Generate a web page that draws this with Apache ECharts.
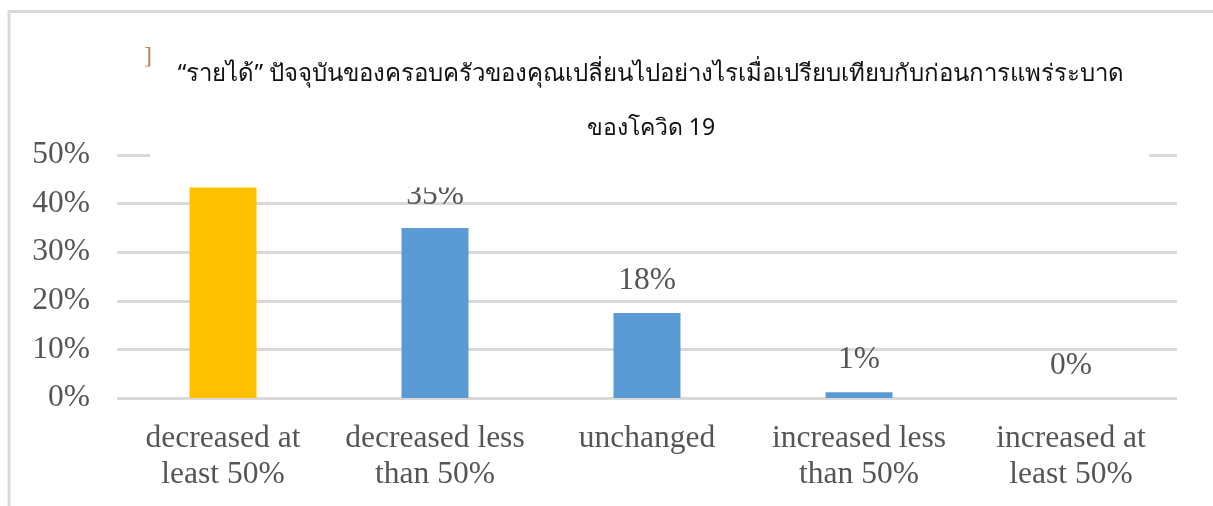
<!DOCTYPE html>
<html>
<head>
<meta charset="utf-8">
<script src="https://cdn.jsdelivr.net/npm/echarts@6/dist/echarts.min.js"></script>
<style>
  html, body { margin: 0; padding: 0; background: #fff; }
  #incomeChart { width: 1213px; height: 506px; }
</style>
</head>
<body>
<div id="incomeChart"></div>
<script>
// หมวดหมู่ (แกน x)
const categories = [
  "decreased at\nleast 50%",
  "decreased less\nthan 50%",
  "unchanged",
  "increased less\nthan 50%",
  "increased at\nleast 50%"
];
// ร้อยละของครัวเรือน
const shares = [46, 35, 17.5, 1.2, 0];
const barColors = ["#FFC000", "#5B9BD5", "#5B9BD5", "#5B9BD5", "#5B9BD5"];
const yTicks = [0, 10, 20, 30, 40, 50];

const titleLine1 = "“รายได้” ปัจจุบันของครอบครัวของคุณเปลี่ยนไปอย่างไรเมื่อเปรียบเทียบกับก่อนการแพร่ระบาด";
const titleLine2 = "ของโควิด 19";

const serif = "'Liberation Serif', 'Times New Roman', serif";
const textGray = "#555555";

let chart = echarts.init(document.getElementById("incomeChart"));

const option = {
  backgroundColor: "#fff",
  animation: false,
  title: {
    text: titleLine1,
    subtext: titleLine2,
    left: 646,
    top: 57,
    textAlign: "center",
    itemGap: 31,
    z: 6,
    textStyle: {
      fontFamily: "'Noto Sans', sans-serif",
      fontSize: 24,
      fontWeight: "normal",
      color: "#111"
    },
    subtextStyle: {
      fontFamily: "'Noto Sans', sans-serif",
      fontSize: 23,
      color: "#111"
    }
  },
  graphic: [
    {
      // กรอบรอบแผนภูมิ
      type: "rect",
      z: 1,
      shape: { x: 9, y: 11.5, width: 1300, height: 600 },
      style: { fill: null, stroke: "#d9d9d9", lineWidth: 3 }
    },
    {
      // กล่องพื้นหลังของชื่อแผนภูมิ (บังเส้น 50% และป้ายแท่งแรก)
      type: "rect",
      z: 5,
      shape: { x: 150, y: 30, width: 999, height: 157.5 },
      style: { fill: "#fff" }
    },
    {
      type: "text",
      z: 6,
      x: 144,
      y: 45,
      style: { text: "]", fontSize: 24, fontFamily: serif, fill: "#b9824a" }
    }
  ],
  grid: {
    left: 117,
    right: 36,
    top: 155,
    bottom: 108,
    containLabel: false
  },
  xAxis: {
    type: "category",
    data: categories,
    axisLine: { show: false },
    axisTick: { show: false },
    axisLabel: {
      interval: 0,
      margin: 23,
      fontFamily: serif,
      fontSize: 31.5,
      lineHeight: 36,
      color: textGray
    }
  },
  yAxis: {
    type: "value",
    min: yTicks[0],
    max: yTicks[yTicks.length - 1],
    interval: 10,
    axisLine: { show: false },
    axisTick: { show: false },
    axisLabel: {
      margin: 27,
      formatter: "{value}%",
      fontFamily: serif,
      fontSize: 31.5,
      color: textGray
    },
    splitLine: {
      show: true,
      lineStyle: { color: "#d9d9d9", width: 3 }
    }
  },
  series: [
    {
      type: "bar",
      barWidth: 67,
      data: shares.map((v, i) => ({ value: v, itemStyle: { color: barColors[i] } })),
      label: {
        show: true,
        position: "top",
        distance: 16,
        fontFamily: serif,
        fontSize: 31.5,
        lineHeight: 32,
        color: textGray,
        formatter: p => Math.round(p.value) + "%"
      }
    }
  ]
};

chart.setOption(option);
</script>
</body>
</html>
